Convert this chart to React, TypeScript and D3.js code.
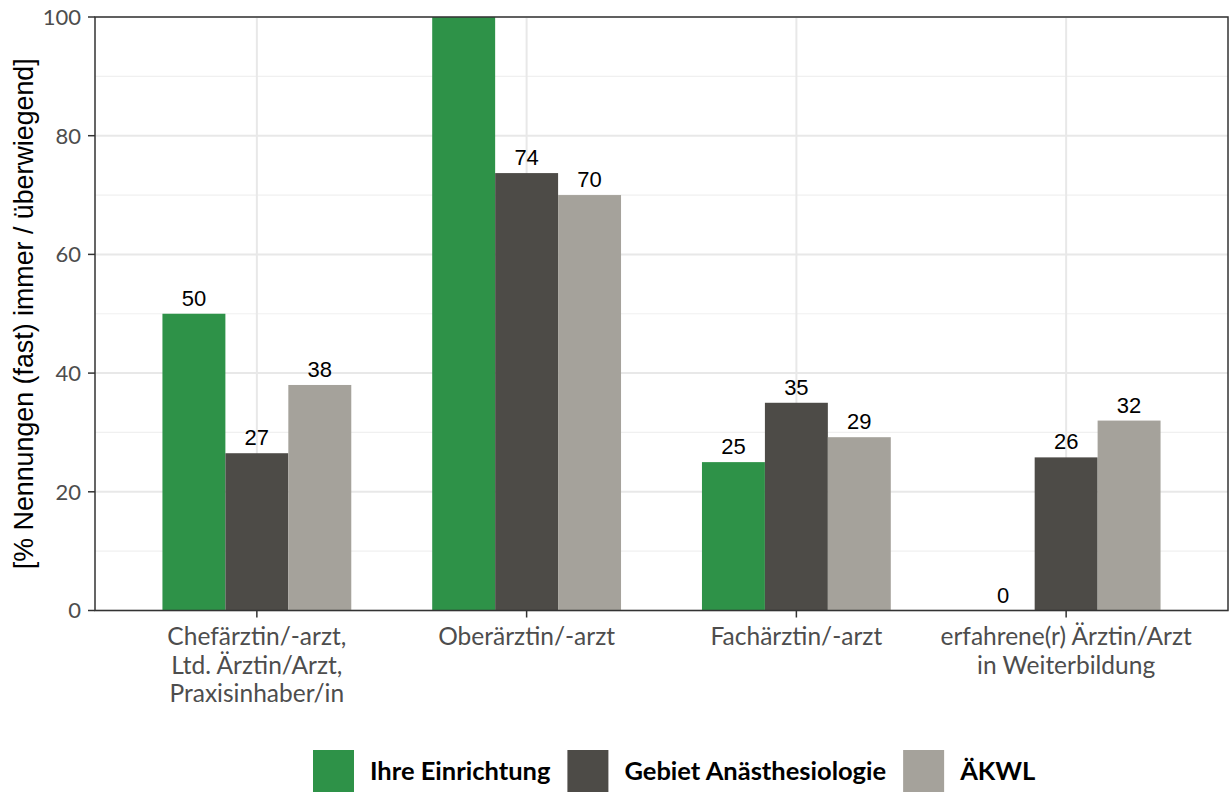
import React, { useEffect, useRef } from "react";
import * as d3 from "d3";

const categories: string[][] = [
  ["Chefärztin/-arzt,", "Ltd. Ärztin/Arzt,", "Praxisinhaber/in"],
  ["Oberärztin/-arzt"],
  ["Fachärztin/-arzt"],
  ["erfahrene(r) Ärztin/Arzt", "in Weiterbildung"],
];
const seriesNames = ["Ihre Einrichtung", "Gebiet Anästhesiologie", "ÄKWL"];
const seriesColors = ["#2E9248", "#4D4B47", "#A5A29B"];
const ihreEinrichtung = [50, 100, 25, 0];
const gebietAnaesthesiologie = [26.5, 73.7, 35, 25.8];
const aekwl = [38, 70, 29.2, 32];
const yTicks = [0, 20, 40, 60, 80, 100];
const yMinor = [10, 30, 50, 70, 90];
const yTitle = "[% Nennungen (fast) immer / überwiegend]";

const W = 1229;
const H = 792;
const M = { left: 95, right: 1228, top: 17, bottom: 610.5 };
const CAL = "Lato, 'Open Sans', sans-serif";
const ARIAL = "'Liberation Sans', Arial, sans-serif";

export default function App() {
  const ref = useRef<SVGSVGElement>(null);
  useEffect(() => {
    const svg = d3.select(ref.current);
    svg.selectAll("*").remove();
    const series = [ihreEinrichtung, gebietAnaesthesiologie, aekwl];
    const idx = categories.map((_, i) => i);

    const x = d3.scaleLinear().domain([0.4, 4.6]).range([M.left, M.right]);
    const y = d3.scaleLinear().domain([0, 100]).range([M.bottom, M.top]);
    const barW = x(0.7 / 3) - x(0);

    const g = svg.append("g");
    // grid
    g.selectAll(".minor").data(yMinor).enter().append("line")
      .attr("x1", M.left).attr("x2", M.right)
      .attr("y1", (d) => y(d)).attr("y2", (d) => y(d))
      .attr("stroke", "#f0f0f0").attr("stroke-width", 1.2);
    g.selectAll(".major").data(yTicks).enter().append("line")
      .attr("x1", M.left).attr("x2", M.right)
      .attr("y1", (d) => y(d)).attr("y2", (d) => y(d))
      .attr("stroke", "#e8e8e8").attr("stroke-width", 2);
    g.selectAll(".vmajor").data(idx).enter().append("line")
      .attr("x1", (d) => x(d + 1)).attr("x2", (d) => x(d + 1))
      .attr("y1", M.top).attr("y2", M.bottom)
      .attr("stroke", "#e8e8e8").attr("stroke-width", 2);

    // bars
    series.forEach((vals, s) => {
      g.selectAll(".bar" + s).data(vals).enter().append("rect")
        .attr("x", (_, i) => x(i + 1) - 1.5 * barW + s * barW)
        .attr("width", barW)
        .attr("y", (d) => y(d))
        .attr("height", (d) => y(0) - y(d))
        .attr("fill", seriesColors[s]);
      g.selectAll(".lab" + s).data(vals).enter().append("text")
        .attr("x", (_, i) => x(i + 1) - 1.5 * barW + s * barW + barW / 2)
        .attr("y", (d) => y(d) - 8)
        .attr("text-anchor", "middle")
        .attr("font-family", ARIAL)
        .attr("font-size", 22)
        .attr("fill", "#000")
        .text((d) => (d >= 100 ? "" : String(Math.round(d))));
    });

    // panel border
    g.append("rect")
      .attr("x", M.left).attr("y", M.top)
      .attr("width", M.right - M.left).attr("height", M.bottom - M.top)
      .attr("fill", "none").attr("stroke", "#333").attr("stroke-width", 1.5);

    // y axis ticks
    const ya = g.append("g");
    ya.selectAll("line").data(yTicks).enter().append("line")
      .attr("x1", M.left - 7).attr("x2", M.left)
      .attr("y1", (d) => y(d)).attr("y2", (d) => y(d))
      .attr("stroke", "#333").attr("stroke-width", 1.5);
    ya.selectAll("text").data(yTicks).enter().append("text")
      .attr("x", M.left - 14).attr("y", (d) => y(d))
      .attr("dy", "0.36em")
      .attr("text-anchor", "end")
      .attr("font-family", CAL).attr("font-size", 22)
      .attr("fill", "#4d4d4d")
      .text((d) => String(d));

    // x axis
    const xa = g.append("g");
    xa.selectAll("line").data(idx).enter().append("line")
      .attr("x1", (d) => x(d + 1)).attr("x2", (d) => x(d + 1))
      .attr("y1", M.bottom).attr("y2", M.bottom + 7)
      .attr("stroke", "#333").attr("stroke-width", 1.5);
    idx.forEach((i) => {
      const t = xa.append("text")
        .attr("text-anchor", "middle")
        .attr("font-family", CAL).attr("font-size", 24.5)
        .attr("fill", "#4d4d4d");
      categories[i].forEach((line, k) => {
        t.append("tspan").attr("x", x(i + 1)).attr("y", 645 + k * 28.5).text(line);
      });
    });

    // y title
    g.append("text")
      .attr("transform", `translate(33,${(M.top + M.bottom) / 2}) rotate(-90)`)
      .attr("text-anchor", "middle")
      .attr("font-family", ARIAL).attr("font-size", 26.8)
      .attr("fill", "#000")
      .text(yTitle);

    // legend
    const lg = g.append("g");
    let cx = 313;
    const keyW = 41, keyH = 42, keyY = 750;
    seriesNames.forEach((name, s) => {
      lg.append("rect").attr("x", cx).attr("y", keyY).attr("width", keyW).attr("height", keyH)
        .attr("fill", seriesColors[s]);
      const t = lg.append("text")
        .attr("x", cx + keyW + 16).attr("y", keyY + keyH / 2)
        .attr("dy", "0.35em")
        .attr("font-family", CAL).attr("font-size", 25.5).attr("font-weight", 700)
        .attr("fill", "#000").text(name);
      const w = (t.node() as SVGTextElement).getComputedTextLength();
      cx = cx + keyW + 16 + w + 17;
    });
  }, []);
  return (
    <svg ref={ref} width={W} height={H} style={{ position: "absolute", left: 0, top: 0, background: "#fff" }} />
  );
}
